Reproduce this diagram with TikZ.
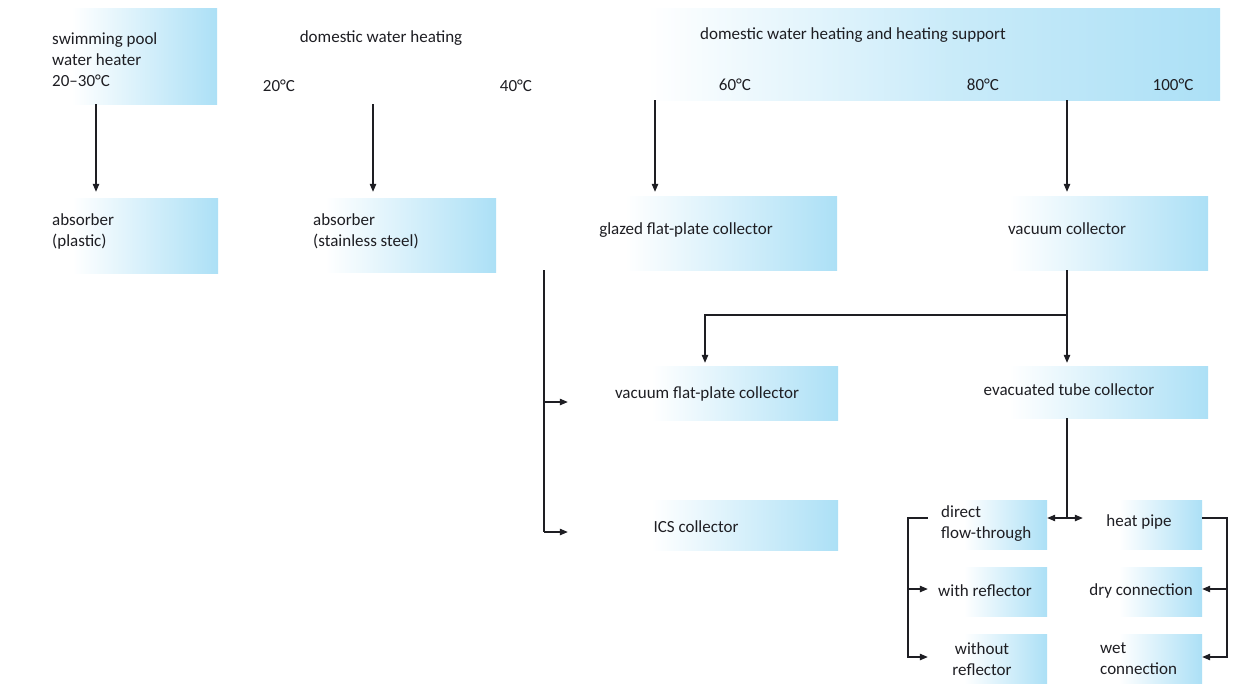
\documentclass[tikz,border=0pt]{standalone}
\usepackage{fontspec}
\setmainfont{Carlito}
\usetikzlibrary{arrows.meta}

\definecolor{boxblue}{RGB}{172,224,246}
\definecolor{ink}{RGB}{30,30,35}

% white on the left, fading into light blue on the right
\pgfdeclarehorizontalshading{boxfade}{100bp}{color(0bp)=(white); color(25bp)=(white); color(40bp)=(white); color(75bp)=(boxblue); color(100bp)=(boxblue)}
% a longer, more gradual fade for the wide heading band
\pgfdeclarehorizontalshading{bandfade}{100bp}{color(0bp)=(white); color(25bp)=(white); color(32bp)=(white); color(55bp)=(boxblue!65); color(75bp)=(boxblue); color(100bp)=(boxblue)}

\tikzset{
  panel/.style={shading=boxfade, draw=none, inner sep=0pt},
  band/.style={shading=bandfade, draw=none, inner sep=0pt},
  blank/.style={draw=none, fill=none, inner sep=0pt},
  lbl/.style={inner sep=0pt, text=ink, font=\fontsize{17}{21}\selectfont},
  lbll/.style={lbl, anchor=west, align=left},
  lblc/.style={lbl, align=center},
  link/.style={draw=ink, line width=1.1pt},
  arr/.style={link, -{Triangle[length=8pt,width=6.5pt]}},
}

\begin{document}
\begin{tikzpicture}[x=1pt, y=-1pt]
  \fill[white] (0,0) rectangle (1236,688);
  \useasboundingbox (0,0) rectangle (1236,688);

  % ---- temperature ranges (top row) ----
  \node[panel, minimum width=207, minimum height=96] (pool) at (113.5,56) {};
  \node[blank, minimum width=310, minimum height=96] (dwh) at (400,56) {};
  \node[band, minimum width=665, minimum height=92] (dwhs) at (887.5,54) {};

  \node[lbll] (tPool) at (52,60) {swimming pool\\water heater\\20--30°C};
  \node[lblc] (tDwh) at (381,38) {domestic water heating};
  \node[lblc] (t20) at (279,86) {20°C};
  \node[lblc] (t40) at (516,86) {40°C};
  \node[lblc] (tDwhs) at (853,35) {domestic water heating and heating support};
  \node[lblc] (t60) at (735,85) {60°C};
  \node[lblc] (t80) at (983,85) {80°C};
  \node[lblc] (t100) at (1173,85) {100°C};

  % ---- collector types ----
  \node[panel, minimum width=208, minimum height=75] (absP) at (114,235.5) {};
  \node[panel, minimum width=244, minimum height=74] (absS) at (374,235) {};
  \node[panel, minimum width=302, minimum height=74] (glazed) at (686,233) {};
  \node[panel, minimum width=284, minimum height=74] (vac) at (1066,233) {};

  \node[lbll] (tAbsP) at (52,231) {absorber\\(plastic)};
  \node[lbll] (tAbsS) at (313,231) {absorber\\(stainless steel)};
  \node[lblc] (tGlazed) at (686,230) {glazed flat-plate collector};
  \node[lblc] (tVac) at (1067,229) {vacuum collector};

  \node[panel, minimum width=266, minimum height=54] (vfp) at (705,393) {};
  \node[panel, minimum width=284, minimum height=52] (etc) at (1066,392) {};
  \node[panel, minimum width=266, minimum height=50] (ics) at (705,525) {};

  \node[lblc] (tVfp) at (707,394) {vacuum flat-plate collector};
  \node[lblc] (tEtc) at (1069,390) {evacuated tube collector};
  \node[lblc] (tIcs) at (696,527) {ICS collector};

  % ---- evacuated tube variants ----
  \node[panel, minimum width=119, minimum height=49] (dft) at (987.5,524.5) {};
  \node[panel, minimum width=119, minimum height=49] (hp) at (1142.5,524.5) {};
  \node[panel, minimum width=119, minimum height=49] (wr) at (987.5,591.5) {};
  \node[panel, minimum width=119, minimum height=49] (dc) at (1142.5,591.5) {};
  \node[panel, minimum width=119, minimum height=49] (wor) at (987.5,658.5) {};
  \node[panel, minimum width=119, minimum height=49] (wc) at (1142.5,658.5) {};

  \node[lbll] (tDft) at (941,523.5) {direct\\flow-through};
  \node[lblc] (tHp) at (1139,522) {heat pipe};
  \node[lblc] (tWr) at (985,591) {with reflector};
  \node[lblc] (tDc) at (1141,591) {dry connection};
  \node[lblc] (tWor) at (982,659) {without\\reflector};
  \node[lbll] (tWc) at (1100,659) {wet\\connection};

  % ---- connector columns and junctions ----
  \coordinate (cA) at (96,0);
  \coordinate (cB) at (373,0);
  \coordinate (cC) at (655,0);
  \coordinate (cD) at (1067,0);
  \coordinate (cG) at (544,0);
  \coordinate (split) at (1067,315);
  \coordinate (split2) at (1067,518);
  \coordinate (gV) at (544,402);
  \coordinate (gI) at (544,532);
  \coordinate (lT) at (908,518);
  \coordinate (lM) at (908,589);
  \coordinate (lB) at (908,657);
  \coordinate (rT) at (1227,518);
  \coordinate (rM) at (1227,589);
  \coordinate (rB) at (1227,657);

  % ---- connectors ----
  \draw[arr] (pool.south -| cA) -- ([yshift=6]absP.north -| cA);
  \draw[arr] (dwh.south -| cB) -- ([yshift=6]absS.north -| cB);
  \draw[arr] (dwhs.south -| cC) -- ([yshift=4]glazed.north -| cC);
  \draw[arr] (dwhs.south -| cD) -- ([yshift=4]vac.north -| cD);

  \draw[arr] (vac.south -| cD) -- (split) -| ([yshift=3]vfp.north);
  \draw[arr] (split) -- ([yshift=3]etc.north -| cD);

  \draw[link] (glazed.south -| cG) -- (gI);
  \draw[arr] (gV) -- ([xshift=-4]gV -| vfp.west);
  \draw[arr] (gI) -- ([xshift=-4]gI -| ics.west);

  \draw[link] (etc.south -| cD) -- (split2);
  \draw[arr] (split2) -- (split2 -| dft.east);
  \draw[arr] (split2) -- (split2 -| hp.west);

  \draw[arr] (lT -| dft.west) -- (lT) |- (lB -| wor.west);
  \draw[arr] (lM) -- (lM -| wr.west);
  \draw[arr] (rT -| hp.east) -- (rT) |- (rB -| wc.east);
  \draw[arr] (rM) -- (rM -| dc.east);
\end{tikzpicture}
\end{document}
